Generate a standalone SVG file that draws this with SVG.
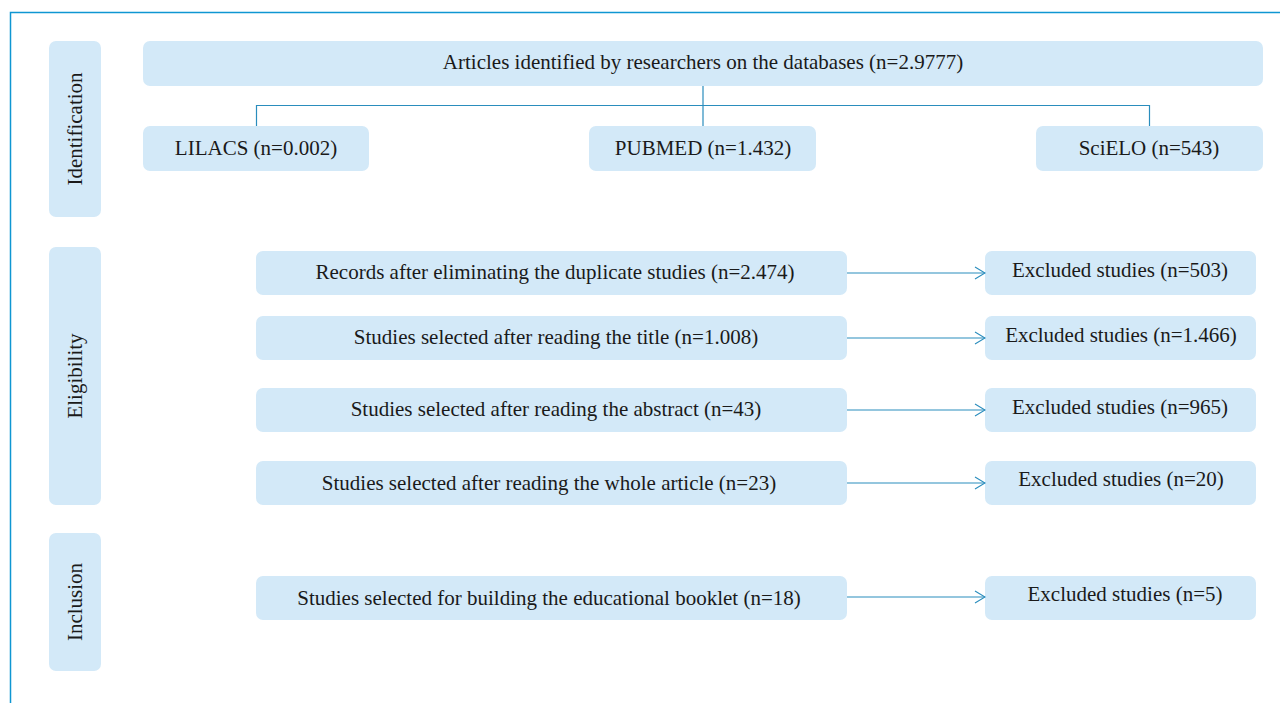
<svg xmlns="http://www.w3.org/2000/svg" width="1280" height="703" viewBox="0 0 1280 703">
<style>
.box{fill:#d3e9f8;}
.t{font-family:"Liberation Serif",serif;font-size:21px;fill:#1a1a1a;text-anchor:middle;dominant-baseline:central;}
.c{stroke:#2a8dbd;stroke-width:1.2;fill:none;}
.frame{stroke:#0f96d2;stroke-width:1.5;fill:none;}
</style>
<defs>
<marker id="arr" markerWidth="12" markerHeight="14" refX="11" refY="7" orient="auto" markerUnits="userSpaceOnUse">
<path d="M1,1 L11,7 L1,13" fill="none" stroke="#2a8dbd" stroke-width="1.1"/>
</marker>
</defs>
<path class="frame" d="M1280,12.5 H10.5 V703"/>
<g id="stage-identification"><rect class="box" x="49" y="41" width="52" height="176" rx="7"/><text class="t" transform="translate(75,129) rotate(-90)">Identification</text></g>
<g id="stage-eligibility"><rect class="box" x="49" y="247" width="52" height="258" rx="7"/><text class="t" transform="translate(75,376) rotate(-90)">Eligibility</text></g>
<g id="stage-inclusion"><rect class="box" x="49" y="533" width="52" height="138" rx="7"/><text class="t" transform="translate(75,602) rotate(-90)">Inclusion</text></g>
<g id="articles"><rect class="box" x="143" y="41" width="1120" height="45" rx="7"/><text class="t" x="703" y="62">Articles identified by researchers on the databases (n=2.9777)</text></g>
<g id="lilacs"><rect class="box" x="143" y="126" width="226" height="45" rx="7"/><text class="t" x="256" y="148">LILACS (n=0.002)</text></g>
<g id="pubmed"><rect class="box" x="589" y="126" width="227" height="45" rx="7"/><text class="t" x="703" y="148">PUBMED (n=1.432)</text></g>
<g id="scielo"><rect class="box" x="1036" y="126" width="227" height="45" rx="7"/><text class="t" x="1149" y="148">SciELO (n=543)</text></g>
<g id="records"><rect class="box" x="256" y="251" width="591" height="44" rx="7"/><text class="t" x="555" y="272">Records after eliminating the duplicate studies (n=2.474)</text></g>
<g id="excl1"><rect class="box" x="985" y="251" width="271" height="44" rx="7"/><text class="t" x="1120" y="270">Excluded studies (n=503)</text></g>
<g id="title"><rect class="box" x="256" y="316" width="591" height="44" rx="7"/><text class="t" x="556" y="337">Studies selected after reading the title (n=1.008)</text></g>
<g id="excl2"><rect class="box" x="985" y="316" width="271" height="44" rx="7"/><text class="t" x="1121" y="335">Excluded studies (n=1.466)</text></g>
<g id="abstract"><rect class="box" x="256" y="388" width="591" height="44" rx="7"/><text class="t" x="556" y="409">Studies selected after reading the abstract (n=43)</text></g>
<g id="excl3"><rect class="box" x="985" y="388" width="271" height="44" rx="7"/><text class="t" x="1120" y="407">Excluded studies (n=965)</text></g>
<g id="whole"><rect class="box" x="256" y="461" width="591" height="44" rx="7"/><text class="t" x="549" y="483">Studies selected after reading the whole article (n=23)</text></g>
<g id="excl4"><rect class="box" x="985" y="461" width="271" height="44" rx="7"/><text class="t" x="1121" y="479">Excluded studies (n=20)</text></g>
<g id="booklet"><rect class="box" x="256" y="576" width="591" height="44" rx="7"/><text class="t" x="549" y="598">Studies selected for building the educational booklet (n=18)</text></g>
<g id="excl5"><rect class="box" x="985" y="576" width="271" height="44" rx="7"/><text class="t" x="1125" y="594">Excluded studies (n=5)</text></g>
<g id="connectors">
<path class="c" d="M703,86 V126 M256.5,126 V105.5 H1149.5 V126"/>
<line class="c" x1="847" y1="273" x2="985" y2="273" marker-end="url(#arr)"/>
<line class="c" x1="847" y1="338" x2="985" y2="338" marker-end="url(#arr)"/>
<line class="c" x1="847" y1="410" x2="985" y2="410" marker-end="url(#arr)"/>
<line class="c" x1="847" y1="483" x2="985" y2="483" marker-end="url(#arr)"/>
<line class="c" x1="847" y1="597" x2="985" y2="597" marker-end="url(#arr)"/>
</g>
</svg>
